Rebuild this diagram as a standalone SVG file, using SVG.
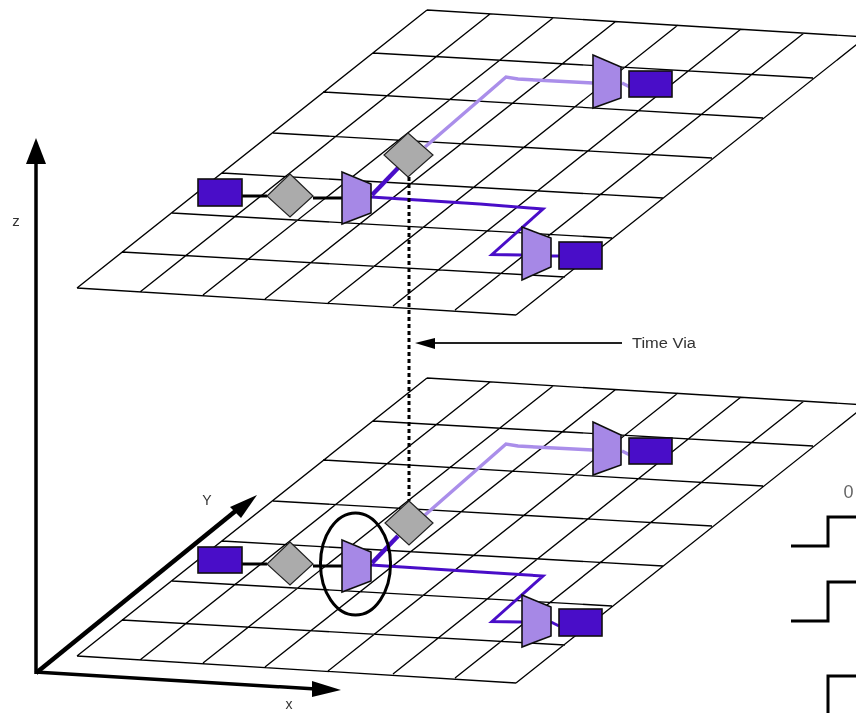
<svg xmlns="http://www.w3.org/2000/svg" width="856" height="713" viewBox="0 0 856 713">
<style>
.grid{fill:none;stroke:#000;stroke-width:1.35}
.src{fill:#4a10c8;stroke:#111;stroke-width:1.6}
.mux{fill:#a688e6;stroke:#111;stroke-width:1.6}
.via{fill:#ababab;stroke:#222;stroke-width:1.2}
.blk{fill:none;stroke:#000;stroke-width:3}
.drk{fill:none;stroke:#4a10c8;stroke-width:3}
.drk2{fill:none;stroke:#4a10c8;stroke-width:4.500}
.lgt{fill:none;stroke:#aa8eea;stroke-width:3.500}
.lbl{font-family:"Liberation Sans",Arial,sans-serif;fill:#333}
.soft{filter:url(#soft)}
</style>
<defs>
<filter id="soft" x="-5%" y="-5%" width="110%" height="110%"><feGaussianBlur stdDeviation="0.35"/></filter>
<filter id="softer" x="-20%" y="-20%" width="140%" height="140%"><feGaussianBlur stdDeviation="0.5"/></filter>
<path id="plane" class="grid" d="M77 288L516 315M122 252L565 277M172 213L612 238M222 173L663 198M273 133L712 158M323 92L763 118M373 53L813 78M427 10L866 37M77 288L427 10M140 292L490 14M203 295L553 18M265 299L615 22M328 303L678 25M393 306L741 29M455 310L804 33M516 315L866 37"/>
</defs>
<rect width="856" height="713" fill="#fff"/>
<g id="grids" class="soft">
<use href="#plane"/>
<use href="#plane" y="368"/>
</g>
<g id="connectors" class="soft">
<path class="blk" d="M242 196H267M313 198H342"/>
<path class="drk2" d="M372 195L398 168"/>
<path class="lgt" d="M425 147L506 77L518 79L593 83M622 83L630 87"/>
<path class="drk" d="M371 197L480 204L543 209L492 254.500L522 255M551 256H559"/>
<path class="blk" d="M242 564H267M313 566H342"/>
<path class="drk2" d="M372 563L398 536"/>
<path class="lgt" d="M425 515L506 444L518 446L593 450M622 451L630 455"/>
<path class="drk" d="M371 565L480 572L543 576L492 621.500L522 622M551 622L559 626"/>
<path fill="none" stroke="#000" stroke-width="3" stroke-dasharray="4 3" d="M409 177V501"/>
<path fill="none" stroke="#222" stroke-width="2" d="M622 343H430"/>
<path fill="#000" d="M415 343L435 338V349Z"/>
</g>
<g id="axes" class="soft">
<path fill="none" stroke="#000" stroke-width="3.500" d="M36 674V160"/>
<path fill="#000" d="M36 138L46 164H26Z"/>
<path fill="none" stroke="#000" stroke-width="4.500" d="M36 673L238 509"/>
<path fill="#000" d="M257 495L241 518L230 507Z"/>
<path fill="none" stroke="#000" stroke-width="3.500" d="M35 672L316 689"/>
<path fill="#000" d="M341 690L312 681V697Z"/>
</g>
<g id="n-src-a" class="soft"><rect class="src" x="198" y="179" width="44" height="27"/></g>
<g id="n-via-a" class="soft"><path class="via" d="M290 174L313 196L290 217L267 196Z"/></g>
<g id="n-mux-a" class="soft"><path class="mux" d="M342 172L371 184V213L342 224Z"/></g>
<g id="n-via-b" class="soft"><path class="via" d="M408 133L433 155L408 177L384 155Z"/></g>
<g id="n-mux-b" class="soft"><path class="mux" d="M593 55L621 67V98L593 108Z"/></g>
<g id="n-src-b" class="soft"><rect class="src" x="629" y="71" width="43" height="26"/></g>
<g id="n-mux-c" class="soft"><path class="mux" d="M522 227L551 238V267L522 280Z"/></g>
<g id="n-src-c" class="soft"><rect class="src" x="559" y="242" width="43" height="27"/></g>
<g id="n-src-d" class="soft"><rect class="src" x="198" y="547" width="44" height="26"/></g>
<g id="n-via-d" class="soft"><path class="via" d="M290 542L313 564L290 585L267 564Z"/></g>
<g id="n-mux-d" class="soft"><path class="mux" d="M342 540L371 552V581L342 592Z"/></g>
<g id="n-via-e" class="soft"><path class="via" d="M409 501L433 523L409 545L385 523Z"/></g>
<g id="n-mux-e" class="soft"><path class="mux" d="M593 422L621 435V465L593 475Z"/></g>
<g id="n-src-e" class="soft"><rect class="src" x="629" y="438" width="43" height="26"/></g>
<g id="n-mux-f" class="soft"><path class="mux" d="M522 595L551 607V636L522 647Z"/></g>
<g id="n-src-f" class="soft"><rect class="src" x="559" y="609" width="43" height="27"/></g>
<g id="n-ring" class="soft"><ellipse cx="355.500" cy="564" rx="35" ry="51" fill="none" stroke="#000" stroke-width="3"/></g>
<g id="steps">
<path class="blk" d="M791 546H828V517H856"/>
<path class="blk" d="M791 621H828V582H856"/>
<path class="blk" d="M828 713V676H856"/>
</g>
<g id="labels" filter="url(#softer)">
<text class="lbl" x="632" y="348" font-size="14" textLength="64" lengthAdjust="spacingAndGlyphs">Time Via</text>
<text class="lbl" x="16" y="226" font-size="15" text-anchor="middle">z</text>
<text class="lbl" x="207" y="505" font-size="14" text-anchor="middle">Y</text>
<text class="lbl" x="289" y="709" font-size="14" text-anchor="middle">x</text>
<text class="lbl" x="848.500" y="498" font-size="18" text-anchor="middle" style="fill:#666">0</text>
</g>
</svg>
